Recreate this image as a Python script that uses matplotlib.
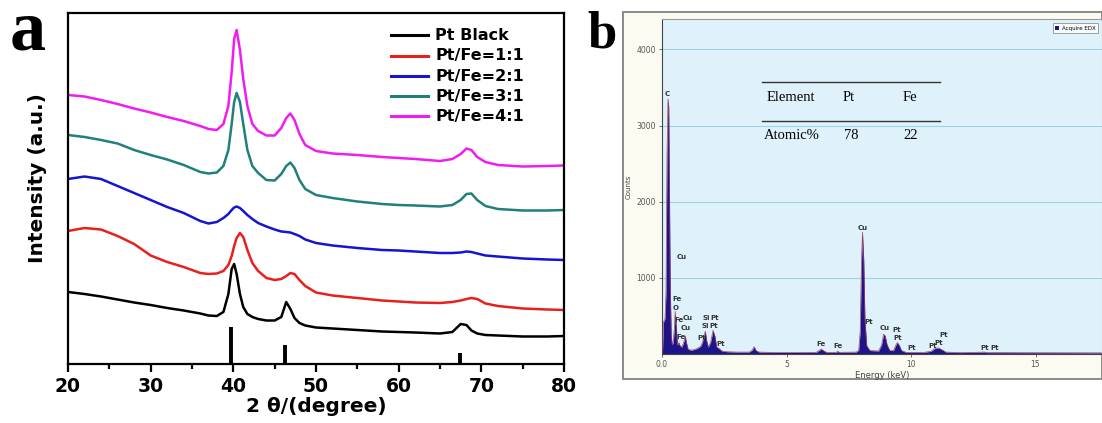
import matplotlib
matplotlib.use("Agg")
import matplotlib.pyplot as plt
from matplotlib.patches import Rectangle, Patch
from matplotlib.ticker import MultipleLocator

# ---------------- panel a : XRD ----------------
two_theta = [20, 22, 24, 26, 28, 30, 32, 34, 36, 37, 38, 38.8, 39.4, 39.8, 40.1, 40.4,
             40.8, 41.2, 41.7, 42.3, 43, 44, 45, 45.8, 46.4, 46.9, 47.4, 48, 48.7, 50,
             52, 55, 58, 60, 62, 65, 66.5, 67.5, 68.2, 68.8, 69.5, 70.5, 72, 75, 78, 80]

pt_black = [72, 70, 67.5, 64.5, 61.5, 59, 56, 53.5, 50.5, 48.5, 48, 52, 70, 95, 100, 90,
            70, 57, 50, 47, 45, 43.5, 43.5, 47, 62, 55, 46, 41, 38.5, 36.5,
            35.5, 34, 32.5, 32, 31.5, 30.5, 32, 40, 39, 33.5, 30.5, 29, 28.5, 27.5, 27.5, 28]
pt_fe_11 = [133, 136, 134.5, 128, 120, 108.5, 102, 97, 91, 90, 90.5, 93, 99, 108, 118, 126,
            131, 127, 114, 101, 93, 86, 84, 85, 88, 91, 90, 84, 78, 71.5,
            68.5, 66, 63.5, 62.5, 61.5, 61, 62, 63.5, 65, 66, 65, 60.5, 58, 55.5, 54.5, 54]
pt_fe_21 = [185, 187.5, 185, 178, 171, 164, 157, 151, 143, 140.5, 142, 146, 150, 154, 156.5, 157.5,
            156, 153, 149, 145, 141, 137.5, 134.5, 132.5, 132, 131.5, 130, 128, 124.5, 121,
            118.5, 116, 114, 113.5, 112.5, 111, 111, 111.5, 112.5, 112, 110.5, 108.5, 107.5, 105.5, 104.5, 104]
pt_fe_31 = [229, 227, 224, 220.5, 214, 209, 204.5, 199, 192, 190.5, 191.5, 198, 214, 240, 262, 271,
            262, 240, 214, 198, 191, 184, 183.5, 190, 198, 201.5, 196, 184, 175, 169,
            166, 162.5, 160, 159, 158.5, 157.5, 159, 164, 170, 170.5, 164, 158, 155, 153.5, 153.5, 154]
pt_fe_41 = [269, 267.5, 264, 260, 255.5, 251.5, 247, 243, 238, 235, 234, 240, 258, 292, 325, 334,
            314, 285, 258, 240, 233, 228.5, 228.5, 236, 246, 250.5, 244, 230, 219, 213,
            210.5, 209, 207, 206, 205, 203, 205, 210, 215.5, 214, 207, 202, 199, 197.5, 198, 198.5]

xrd_labels = ["Pt Black", "Pt/Fe=1:1", "Pt/Fe=2:1", "Pt/Fe=3:1", "Pt/Fe=4:1"]
xrd_colors = ["black", "#e8201c", "#1515d0", "#20807a", "#f01cf0"]

# Pt reference pattern
ref_pos = [39.76, 46.24, 67.45]
ref_height = [37, 19, 11]

# ---------------- panel b : EDX ----------------
energy = [0.00, 0.02, 0.06, 0.12, 0.16, 0.20, 0.24, 0.27, 0.30, 0.33, 0.37, 0.41, 0.45, 0.50,
          0.53, 0.57, 0.62, 0.68, 0.72, 0.80, 0.87, 0.93, 0.98, 1.05, 1.20, 1.40, 1.55, 1.62,
          1.68, 1.74, 1.79, 1.86, 1.95, 2.05, 2.12, 2.20, 2.30, 2.40, 2.60, 3.00, 3.50, 3.62,
          3.70, 3.78, 3.90, 4.50, 5.50, 6.20, 6.33, 6.40, 6.48, 6.62, 7.00, 7.06, 7.12, 7.80,
          7.90, 7.96, 8.01, 8.05, 8.10, 8.15, 8.22, 8.35, 8.70, 8.82, 8.90, 8.96, 9.04, 9.15,
          9.30, 9.38, 9.45, 9.52, 9.62, 9.80, 10.50, 10.80, 10.95, 11.10, 11.25, 11.40, 12.00,
          12.95, 13.05, 17.70]
counts = [0, 30, 420, 460, 800, 2600, 3350, 3250, 2100, 900, 250, 120, 150, 350,
          560, 380, 120, 150, 110, 90, 150, 240, 150, 60, 50, 70, 100, 150,
          220, 300, 180, 90, 150, 310, 240, 90, 70, 40, 30, 25, 25, 50,
          95, 45, 25, 20, 20, 22, 50, 65, 45, 20, 22, 35, 22, 25,
          50, 300, 1200, 1600, 1250, 450, 110, 45, 40, 120, 260, 240, 120, 45,
          45, 110, 150, 120, 45, 22, 20, 35, 70, 80, 55, 25, 18,
          25, 18, 15]

peak_names = ["C", "Cu", "Fe", "O", "Fe", "Cu", "Cu", "Fe", "Pt", "Si", "Pt", "Si", "Pt", "Pt",
              "Fe", "Fe", "Cu", "Pt", "Cu", "Pt", "Pt", "Pt", "Pt", "Pt", "Pt", "Pt", "Pt"]
peak_e = [0.22, 0.80, 0.59, 0.54, 0.68, 1.02, 0.94, 0.76, 1.60, 1.77, 2.12, 1.73, 2.09, 2.34,
          6.40, 7.07, 8.07, 8.30, 8.94, 9.43, 9.47, 10.03, 10.86, 11.12, 11.30, 12.97, 13.37]
peak_c = [3420, 1280, 720, 610, 450, 475, 340, 225, 215, 475, 475, 370, 370, 135,
          130, 105, 1660, 425, 340, 315, 215, 75, 100, 150, 250, 75, 75]

table_head = ["Element", "Pt", "Fe"]
table_row = ["Atomic%", "78", "22"]

W, H = 1102, 423
fig = plt.figure(figsize=(W / 100, H / 100), dpi=100)

# ---- panel a
ax = fig.add_axes([68 / W, 1 - 364 / H, 496 / W, 351 / H])
for y, lab, col in zip([pt_black, pt_fe_11, pt_fe_21, pt_fe_31, pt_fe_41], xrd_labels, xrd_colors):
    ax.plot(two_theta, y, color=col, lw=1.8, label=lab)
ax.vlines(ref_pos, 0, ref_height, color="black", lw=2.8)
ax.set_xlim(20, 80)
ax.set_ylim(0, 351)
ax.set_yticks([])
ax.xaxis.set_major_locator(MultipleLocator(10))
ax.xaxis.set_minor_locator(MultipleLocator(5))
ax.tick_params(axis="x", which="major", length=6, width=1.6, labelsize=13.5, pad=3)
ax.tick_params(axis="x", which="minor", length=3.5, width=1.6)
for lbl in ax.get_xticklabels():
    lbl.set_fontweight("bold")
for s in ax.spines.values():
    s.set_linewidth(1.6)
ax.set_xlabel("2 θ/(degree)", fontsize=14.5, fontweight="bold", labelpad=1)
ax.set_ylabel("Intensity (a.u.)", fontsize=14.5, fontweight="bold")
ax.yaxis.set_label_coords(-0.043, 0.53)
leg = ax.legend(loc="upper left", bbox_to_anchor=(0.652, 0.957), frameon=False,
                handlelength=2.6, handletextpad=0.55, labelspacing=0.38,
                borderaxespad=0, borderpad=0)
for t in leg.get_texts():
    t.set_fontsize(11.5)
    t.set_fontweight("bold")
for l in leg.get_lines():
    l.set_linewidth(2.2)

fig.text(10 / W, 1 - 50 / H, "a", fontsize=52, fontweight="bold", family="Liberation Serif")
fig.text(587 / W, 1 - 48 / H, "b", fontsize=38, fontweight="bold", family="Liberation Serif")

# ---- panel b
frame = Rectangle((623 / W, 1 - 379 / H), (W - 623) / W, 367 / H,
                  transform=fig.transFigure, facecolor="#fbfbf1",
                  edgecolor="#8a8a8a", lw=1.4, zorder=-10)
fig.add_artist(frame)
bx = fig.add_axes([662 / W, 1 - 354 / H, 440 / W, 335 / H], facecolor="#dff2fb")
bx.fill_between(energy, counts, 0, color="#1c1488", lw=0, zorder=2)
bx.plot(energy, counts, color="#a04060", lw=0.5, zorder=3)
bx.set_xlim(0, 17.67)
bx.set_ylim(0, 4400)
bx.set_xticks([0, 5, 10, 15])
bx.set_xticklabels(["0.0", "5", "10", "15"])
bx.set_yticks([1000, 2000, 3000, 4000])
bx.grid(axis="y", color="#9fd2e2", lw=0.8)
bx.set_axisbelow(True)
bx.tick_params(labelsize=5.5, labelcolor="#555555", length=2.5, width=0.6, color="#555555", pad=2)
for s in ["top", "right"]:
    bx.spines[s].set_color("#9a9a9a")
for s in ["left", "bottom"]:
    bx.spines[s].set_color("#444444")
    bx.spines[s].set_linewidth(0.8)
bx.spines["bottom"].set_linestyle((0, (2, 1)))
bx.set_xlabel("Energy (keV)", fontsize=6, color="#444444", labelpad=1)
bx.set_ylabel("Counts", fontsize=5, color="#444444")
bx.yaxis.set_label_coords(-0.068, 0.5)
for n, e, c in zip(peak_names, peak_e, peak_c):
    bx.text(e, c, n, fontsize=5, fontweight="bold", color="#333333",
            ha="center", va="center", zorder=4)

bx.plot([0.227, 0.632], [0.812, 0.812], transform=bx.transAxes, color="#333333", lw=1)
bx.plot([0.227, 0.632], [0.696, 0.696], transform=bx.transAxes, color="#333333", lw=1)
for txt, xp in zip(table_head, [0.293, 0.425, 0.564]):
    bx.text(xp, 0.765, txt, transform=bx.transAxes, fontsize=10.5, ha="center", va="center",
            family="Liberation Serif")
for txt, xp in zip(table_row, [0.295, 0.43, 0.564]):
    bx.text(xp, 0.652, txt, transform=bx.transAxes, fontsize=10.5, ha="center", va="center",
            family="Liberation Serif")

bl = bx.legend(handles=[Patch(facecolor="#1c1488", label="Acquire EDX")], loc="upper right",
               fontsize=4, frameon=True, fancybox=False, handlelength=0.8, handleheight=0.8,
               handletextpad=0.4, borderpad=0.4, borderaxespad=0.8)
bl.get_frame().set_edgecolor("#777777")
bl.get_frame().set_linewidth(0.6)

fig.savefig("out.png", dpi=100)
